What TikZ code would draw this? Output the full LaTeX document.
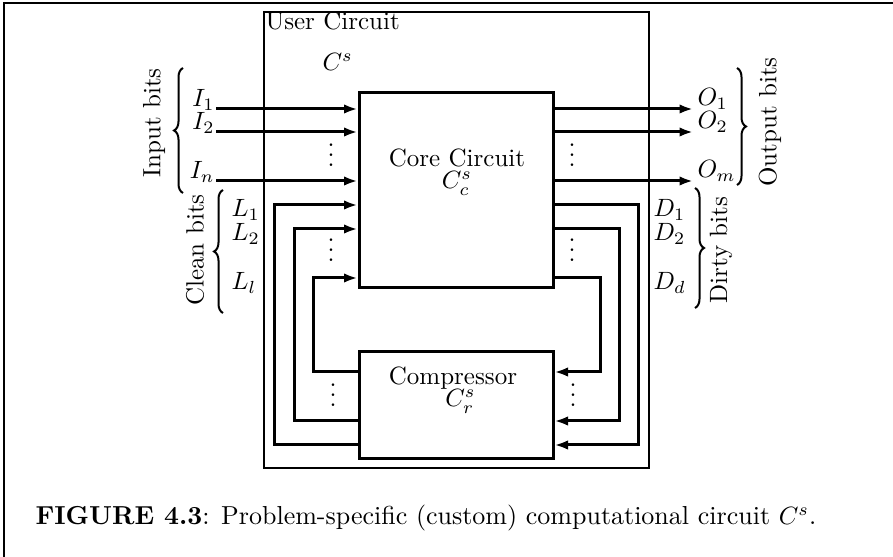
\documentclass[tikz,border=0pt]{standalone}
\usepackage{amsmath,amssymb}
\usetikzlibrary{arrows.meta,positioning,decorations.pathreplacing}

\tikzset{
  wire/.style={line width=1.2pt},
  sig/.style={wire, -{Latex[length=5.4pt,width=3.8pt]}},
  blk/.style={draw, line width=1.2pt, inner sep=0pt, minimum width=77.6pt},
  lbl/.style={inner sep=0pt},
  curly/.style={decorate, decoration={brace, amplitude=3.6pt}, line width=0.8pt},
}

\begin{document}
\begin{tikzpicture}[x=0.4pt, y=-0.4pt]
  \useasboundingbox (0,0) rectangle (893,557);
  \draw[line width=1pt] (4,557) -- (4,3) -- (893,3);

  % boxes
  \node[draw, line width=0.8pt, inner sep=0pt, minimum width=154pt, minimum height=182.4pt] (user) at (456.5,240) {};
  \node[lbl, anchor=base west] (usertxt) at (265,30) {User Circuit};
  \node[lbl, anchor=base west] (usercs) at (322,71) {$C^s$};
  \node[blk, minimum height=78pt] (core) at (456,190.5) {};
  \node[lbl, align=center, anchor=base] (coretxt) at (457,189) {Core Circuit\\[-3.2pt]$C^s_c$};
  \node[blk, minimum height=42.8pt] (comp) at (456,405.5) {};
  \node[lbl, align=center, anchor=base] (comptxt) at (453,407) {Compressor\\[-3.2pt]\hspace*{6pt}$C^s_r$};

  % inputs and outputs
  \coordinate (inA) at (216,109);
  \coordinate (inB) at (216,132);
  \coordinate (inN) at (216,181);
  \coordinate (outA) at (693,109);
  \coordinate (outB) at (693,132);
  \coordinate (outM) at (693,181);
  \draw[sig] (inA) -- (inA -| core.west);
  \draw[sig] (inB) -- (inB -| core.west);
  \draw[sig] (inN) -- (inN -| core.west);
  \draw[sig] (outA -| core.east) -- (outA);
  \draw[sig] (outB -| core.east) -- (outB);
  \draw[sig] (outM -| core.east) -- (outM);
  \node[lbl, anchor=base east] (lI1) at (215,107) {$I_1$};
  \node[lbl, anchor=base east] (lI2) at (215,130) {$I_2$};
  \node[lbl, anchor=base east] (lIn) at (215,179) {$I_n$};
  \node[lbl, anchor=base west] (lO1) at (697,106) {$O_1$};
  \node[lbl, anchor=base west] (lO2) at (697,129) {$O_2$};
  \node[lbl, anchor=base west] (lOm) at (697,178) {$O_m$};

  % clean bits back from the compressor
  \draw[sig] (comp.west |- 0,445) -| (274,205) -- (core.west |- 0,205);
  \draw[sig] (comp.west |- 0,421) -| (294,229) -- (core.west |- 0,229);
  \draw[sig] (comp.west |- 0,372) -| (313,278) -- (core.west |- 0,278);
  \node[lbl, anchor=base west] (lL1) at (231,217) {$L_1$};
  \node[lbl, anchor=base west] (lL2) at (231,241) {$L_2$};
  \node[lbl, anchor=base west] (lLl) at (231,290) {$L_l$};

  % dirty bits into the compressor
  \draw[sig] (core.east |- 0,205) -| (638,445) -- (comp.east |- 0,445);
  \draw[sig] (core.east |- 0,229) -| (619,421) -- (comp.east |- 0,421);
  \draw[sig] (core.east |- 0,278) -| (600,372) -- (comp.east |- 0,372);
  \node[lbl, anchor=base west] (lD1) at (653,217) {$D_1$};
  \node[lbl, anchor=base west] (lD2) at (653,241) {$D_2$};
  \node[lbl, anchor=base west] (lDd) at (653,290) {$D_d$};

  % dots
  \node[lbl, anchor=base] (dotIn) at (331,167) {$\vdots$};
  \node[lbl, anchor=base] (dotL) at (331,262) {$\vdots$};
  \node[lbl, anchor=base] (dotOut) at (572,167) {$\vdots$};
  \node[lbl, anchor=base] (dotD) at (572,262) {$\vdots$};
  \node[lbl, anchor=base] (dotCl) at (333,407) {$\vdots$};
  \node[lbl, anchor=base] (dotCr) at (573,407) {$\vdots$};

  % braces
  \draw[curly] (183,193) -- (183,68);
  \node[lbl, rotate=90] (inbits) at (154,123) {Input bits};
  \draw[curly] (223,313) -- (223,190);
  \node[lbl, rotate=90] (cleanbits) at (195,250) {Clean bits};
  \draw[curly] (737,68) -- (737,185);
  \node[lbl, rotate=90] (outbits) at (770,122) {Output bits};
  \draw[curly] (695,188) -- (695,308);
  \node[lbl, rotate=90] (dirtybits) at (721,250) {Dirty bits};

  % caption
  \node[lbl, anchor=base west, font=\fontsize{10.4pt}{13pt}\selectfont] (caption) at (35,525)
    {\textbf{FIGURE 4.3}: Problem-specific (custom) computational circuit $C^s$.};
\end{tikzpicture}
\end{document}
